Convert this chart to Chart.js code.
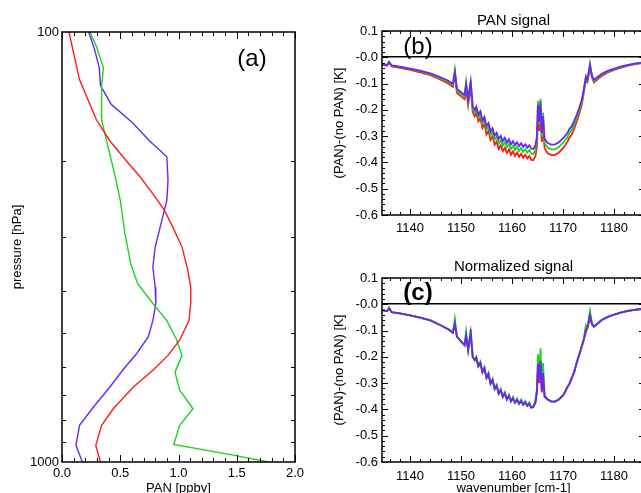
<!DOCTYPE html>
<html>
<head>
<meta charset="utf-8">
<script src="https://cdn.jsdelivr.net/npm/chart.js@4/dist/chart.umd.min.js"></script>
<style>
  html, body { margin: 0; padding: 0; background: #fff; overflow: hidden; }
  body { width: 641px; height: 493px; position: relative; }
  canvas { position: absolute; }
</style>
</head>
<body>
<canvas id="profiles" width="320" height="500" style="left:0;top:0"></canvas>
<canvas id="signal" width="330" height="250" style="left:320px;top:0"></canvas>
<canvas id="normalized" width="330" height="250" style="left:320px;top:250px"></canvas>
<script>
// --- (a) PAN profiles: pressure [hPa] vs PAN [ppbv] ---
const redPressure = [100, 129, 160, 179, 199, 217, 238, 260, 284, 316, 358, 392, 428, 469, 521, 565, 612, 670, 752, 822, 915, 1000];
const redPan = [0.06, 0.15, 0.295, 0.41, 0.55, 0.67, 0.78, 0.88, 0.95, 1.03, 1.08, 1.105, 1.105, 1.09, 1.01, 0.91, 0.78, 0.61, 0.44, 0.34, 0.29, 0.33];

const bluePressure = [100, 110, 121, 133, 147, 163, 179, 195, 221, 246, 279, 316, 352, 392, 428, 469, 512, 560, 612, 670, 745, 822, 915, 1000];
const bluePan = [0.23, 0.28, 0.32, 0.33, 0.42, 0.61, 0.75, 0.90, 0.91, 0.90, 0.85, 0.80, 0.78, 0.80, 0.805, 0.78, 0.74, 0.64, 0.52, 0.41, 0.27, 0.15, 0.12, 0.175];

const greenPressure = [100, 108, 121, 134, 160, 185, 213, 246, 294, 346, 385, 428, 469, 517, 565, 618, 681, 752, 822, 910, 964, 1000];
const greenPan = [0.24, 0.295, 0.355, 0.34, 0.34, 0.395, 0.45, 0.50, 0.54, 0.59, 0.65, 0.78, 0.90, 0.98, 1.03, 0.97, 1.01, 1.125, 1.01, 0.96, 1.47, 1.77];

const panTicks = [0, 0.5, 1.0, 1.5, 2.0];
const pressureTicks = [100, 1000];

// --- (b) and (c) spectra: wavenumber [cm-1] ---
const wavenumber = [
  1134.5, 1135.5, 1135.9, 1136.4, 1138.0, 1140.0, 1142.0, 1144.0, 1146.0, 1147.5, 1148.4, 1148.8, 1149.2, 1150.0, 1150.7, 1151.0, 1151.4, 1151.9, 1152.3,
  1152.7, 1153.0, 1153.4, 1153.8, 1154.2, 1154.6, 1155.0, 1155.4, 1155.8, 1156.2, 1156.6, 1157.0, 1157.4, 1157.8, 1158.2, 1158.6,
  1159.0, 1159.4, 1159.8, 1160.2, 1160.6, 1161.0, 1161.4, 1161.8, 1162.2, 1162.6, 1163.0, 1163.4, 1163.8, 1164.2, 1164.6, 1164.9,
  1165.1, 1165.35, 1165.6, 1165.85, 1166.1, 1166.4,
  1167.0, 1167.7, 1168.4, 1169.2, 1170.1, 1170.9, 1171.3, 1171.7, 1172.2, 1172.7, 1173.2, 1173.7, 1174.1, 1174.5, 1174.8, 1175.3,
  1175.7, 1176.1, 1176.8, 1177.6, 1178.8, 1180.2, 1181.5, 1182.8, 1184.0, 1185.5
];

// (b) PAN signal
const signalBlue = [
  -0.026, -0.029, -0.017, -0.031, -0.036, -0.043, -0.051, -0.061, -0.076, -0.089, -0.101, -0.055, -0.121, -0.132, -0.143, -0.102, -0.162, -0.092, -0.187,
  -0.200, -0.188, -0.218, -0.205, -0.240, -0.226, -0.262, -0.250, -0.282, -0.270, -0.298, -0.287, -0.311, -0.299, -0.319, -0.306,
  -0.325, -0.312, -0.331, -0.319, -0.335, -0.323, -0.338, -0.327, -0.341, -0.331, -0.344, -0.335, -0.348, -0.349, -0.335, -0.300,
  -0.181, -0.245, -0.168, -0.288, -0.225, -0.310,
  -0.326, -0.332, -0.332, -0.323, -0.307, -0.287, -0.272, -0.263, -0.242, -0.219, -0.192, -0.162, -0.120, -0.075, -0.085, -0.029,
  -0.070, -0.086, -0.075, -0.063, -0.052, -0.042, -0.035, -0.029, -0.024, -0.020
];
const signalGreen = [
  -0.027, -0.030, -0.018, -0.032, -0.037, -0.045, -0.053, -0.064, -0.080, -0.093, -0.106, -0.048, -0.127, -0.139, -0.150, -0.095, -0.170, -0.088, -0.197,
  -0.211, -0.198, -0.230, -0.216, -0.253, -0.238, -0.277, -0.263, -0.297, -0.283, -0.314, -0.302, -0.329, -0.315, -0.336, -0.323,
  -0.343, -0.329, -0.349, -0.337, -0.353, -0.341, -0.357, -0.345, -0.360, -0.349, -0.363, -0.353, -0.367, -0.368, -0.353, -0.315,
  -0.165, -0.255, -0.158, -0.302, -0.210, -0.326,
  -0.344, -0.350, -0.350, -0.341, -0.324, -0.303, -0.287, -0.277, -0.255, -0.231, -0.202, -0.171, -0.126, -0.072, -0.089, -0.025,
  -0.074, -0.091, -0.079, -0.066, -0.055, -0.044, -0.037, -0.031, -0.025, -0.021
];
const signalRed = [
  -0.029, -0.032, -0.020, -0.035, -0.040, -0.048, -0.057, -0.068, -0.085, -0.100, -0.113, -0.068, -0.136, -0.148, -0.160, -0.120, -0.181, -0.112, -0.209,
  -0.224, -0.212, -0.244, -0.231, -0.269, -0.254, -0.294, -0.280, -0.315, -0.301, -0.333, -0.321, -0.349, -0.335, -0.357, -0.344,
  -0.364, -0.350, -0.371, -0.358, -0.375, -0.363, -0.379, -0.367, -0.382, -0.371, -0.385, -0.376, -0.390, -0.391, -0.376, -0.340,
  -0.225, -0.280, -0.212, -0.322, -0.262, -0.347,
  -0.365, -0.372, -0.372, -0.362, -0.344, -0.321, -0.305, -0.295, -0.271, -0.245, -0.215, -0.181, -0.134, -0.088, -0.095, -0.040,
  -0.078, -0.096, -0.084, -0.071, -0.058, -0.047, -0.039, -0.032, -0.027, -0.022
];

// (c) normalized signal
const normBlue = [
  -0.022, -0.026, -0.015, -0.030, -0.035, -0.042, -0.051, -0.061, -0.080, -0.095, -0.108, -0.072, -0.123, -0.141, -0.155, -0.117, -0.174, -0.107, -0.200,
  -0.212, -0.203, -0.235, -0.222, -0.258, -0.243, -0.280, -0.265, -0.302, -0.288, -0.322, -0.310, -0.340, -0.326, -0.352, -0.338,
  -0.362, -0.348, -0.369, -0.357, -0.374, -0.363, -0.378, -0.367, -0.382, -0.372, -0.386, -0.378, -0.393, -0.390, -0.372, -0.330,
  -0.225, -0.290, -0.215, -0.330, -0.262, -0.350,
  -0.362, -0.369, -0.370, -0.362, -0.345, -0.314, -0.302, -0.282, -0.258, -0.222, -0.192, -0.160, -0.133, -0.098, -0.090, -0.041,
  -0.075, -0.085, -0.073, -0.060, -0.048, -0.038, -0.031, -0.025, -0.021, -0.018
];
const normGreen = [
  -0.022, -0.026, -0.012, -0.030, -0.035, -0.042, -0.051, -0.061, -0.080, -0.095, -0.108, -0.055, -0.123, -0.141, -0.155, -0.104, -0.174, -0.094, -0.200,
  -0.212, -0.199, -0.235, -0.218, -0.258, -0.239, -0.280, -0.261, -0.302, -0.284, -0.322, -0.306, -0.340, -0.322, -0.352, -0.334,
  -0.362, -0.344, -0.369, -0.353, -0.374, -0.359, -0.378, -0.363, -0.382, -0.368, -0.386, -0.373, -0.393, -0.390, -0.365, -0.322,
  -0.190, -0.270, -0.167, -0.318, -0.224, -0.345,
  -0.362, -0.369, -0.370, -0.362, -0.345, -0.314, -0.300, -0.282, -0.258, -0.222, -0.192, -0.160, -0.130, -0.079, -0.088, -0.025,
  -0.072, -0.085, -0.073, -0.060, -0.048, -0.038, -0.031, -0.025, -0.021, -0.018
];
const normRed = [
  -0.022, -0.026, -0.017, -0.030, -0.035, -0.042, -0.051, -0.061, -0.080, -0.095, -0.108, -0.080, -0.123, -0.141, -0.155, -0.125, -0.174, -0.115, -0.200,
  -0.212, -0.205, -0.235, -0.224, -0.258, -0.245, -0.280, -0.267, -0.302, -0.290, -0.322, -0.312, -0.340, -0.328, -0.352, -0.340,
  -0.362, -0.350, -0.369, -0.359, -0.374, -0.365, -0.378, -0.369, -0.382, -0.374, -0.386, -0.380, -0.393, -0.390, -0.375, -0.335,
  -0.245, -0.300, -0.235, -0.335, -0.280, -0.352,
  -0.362, -0.369, -0.370, -0.362, -0.345, -0.314, -0.303, -0.282, -0.258, -0.222, -0.192, -0.160, -0.135, -0.105, -0.092, -0.050,
  -0.077, -0.085, -0.073, -0.060, -0.048, -0.038, -0.031, -0.025, -0.021, -0.018
];

const wnTicks = [1140, 1150, 1160, 1170, 1180];
const kTicks = [0.1, 0, -0.1, -0.2, -0.3, -0.4, -0.5, -0.6];

const RED = '#ff1a1a';
const GREEN = '#1ed21e';
const BLUE = '#6a26f2';

Chart.defaults.font.family = '"Liberation Sans", Arial, Helvetica, sans-serif';
Chart.defaults.font.size = 13;
Chart.defaults.color = '#000';

// IDL-like frame with inward ticks on all sides, plus the panel letter
const frameTicks = {
    id: 'frameTicks',
    afterDatasetsDraw(chart, args, o) {
        const { ctx, chartArea: a } = chart;
        const x = chart.scales.x, y = chart.scales.y;
        ctx.save();
        ctx.strokeStyle = '#000';
        ctx.lineWidth = 1.5;
        ctx.beginPath();
        ctx.rect(a.left, a.top, a.right - a.left, a.bottom - a.top);
        ctx.stroke();
        ctx.lineWidth = 1;
        ctx.beginPath();
        const xt = (list, len) => list.forEach(v => {
            const px = Math.round(x.getPixelForValue(v)) + 0.5;
            ctx.moveTo(px, a.bottom); ctx.lineTo(px, a.bottom - len);
            ctx.moveTo(px, a.top); ctx.lineTo(px, a.top + len);
        });
        const yt = (list, len) => list.forEach(v => {
            const py = Math.round(y.getPixelForValue(v)) + 0.5;
            ctx.moveTo(a.left, py); ctx.lineTo(a.left + len, py);
            ctx.moveTo(a.right, py); ctx.lineTo(a.right - len, py);
        });
        xt(o.xMajor, o.majorLen);
        xt(o.xMinor, o.minorLen);
        yt(o.yMajor, o.majorLen);
        yt(o.yMinor, o.minorLen);
        ctx.stroke();
        ctx.font = o.labelFont;
        ctx.fillStyle = '#000';
        ctx.textAlign = 'center';
        ctx.textBaseline = 'middle';
        ctx.fillText(o.label, o.labelX, o.labelY);
        ctx.restore();
    }
};

function range(from, to, step) {
    const out = [];
    for (let v = from; v <= to + step / 2; v += step) out.push(+v.toFixed(4));
    return out;
}

function pairs(xs, ys) {
    return xs.map((v, i) => ({ x: v, y: ys[i] }));
}

function lineSet(color, data, width) {
    return { data: data, borderColor: color, borderWidth: width, pointRadius: 0, tension: 0, fill: false };
}

// --- Panel (a) ---
new Chart(document.getElementById('profiles'), {
    type: 'line',
    data: {
        datasets: [
            lineSet(RED, pairs(redPan, redPressure), 1.4),
            lineSet(GREEN, pairs(greenPan, greenPressure), 1.4),
            lineSet(BLUE, pairs(bluePan, bluePressure), 1.4)
        ]
    },
    options: {
        responsive: false,
        animation: false,
        layout: { padding: { left: 0, top: 32, right: 25, bottom: 0 } },
        plugins: {
            legend: { display: false },
            tooltip: { enabled: false },
            frameTicks: {
                xMajor: panTicks, xMinor: range(0.1, 1.9, 0.1), yMajor: [], yMinor: range(200, 900, 100),
                majorLen: 7, minorLen: 4,
                label: '(a)', labelFont: '24px "Liberation Sans", Arial, sans-serif', labelX: 252, labelY: 59
            }
        },
        scales: {
            x: {
                type: 'linear', min: 0, max: 2,
                afterBuildTicks: s => { s.ticks = panTicks.map(v => ({ value: v })); },
                afterFit: s => { s.height = 38; },
                grid: { display: false, drawTicks: false },
                border: { display: false },
                ticks: { padding: 4, maxRotation: 0, callback: v => v.toFixed(1) },
                title: { display: true, text: 'PAN [ppbv]', padding: { top: 0, bottom: 3.7 } }
            },
            y: {
                type: 'logarithmic', min: 100, max: 1000, reverse: true,
                afterBuildTicks: s => { s.ticks = pressureTicks.map(v => ({ value: v })); },
                afterFit: s => { s.width = 62; },
                grid: { display: false, drawTicks: false },
                border: { display: false },
                ticks: { padding: 3, callback: v => String(v) },
                title: { display: true, text: 'pressure [hPa]', padding: { top: 10, bottom: 0 } }
            }
        }
    },
    plugins: [frameTicks]
});

// --- Panels (b) and (c) ---
function spectrumChart(id, title, sets, label, labelY, labelBold, titlePad, xHeight, showXTitle) {
    return new Chart(document.getElementById(id), {
        type: 'line',
        data: { datasets: sets },
        options: {
            responsive: false,
            animation: false,
            layout: { padding: { left: 0, top: 0, right: 5, bottom: 0 } },
            plugins: {
                legend: { display: false },
                tooltip: { enabled: false },
                title: {
                    display: true, text: title, fullSize: false,
                    font: { size: 15, weight: 'normal' }, padding: titlePad
                },
                frameTicks: {
                    xMajor: wnTicks, xMinor: range(1136, 1186, 2), yMajor: kTicks, yMinor: range(-0.6, 0.1, 0.02),
                    majorLen: 6, minorLen: 3,
                    label: label,
                    labelFont: (labelBold ? 'bold ' : '') + '24px "Liberation Sans", Arial, sans-serif',
                    labelX: 98, labelY: labelY
                }
            },
            scales: {
                x: {
                    type: 'linear', min: 1134.5, max: 1186.1,
                    afterBuildTicks: s => { s.ticks = wnTicks.map(v => ({ value: v })); },
                    afterFit: s => { s.height = xHeight; },
                    grid: { display: false, drawTicks: false },
                    border: { display: false },
                    ticks: { padding: showXTitle ? 7 : 6, maxRotation: 0, callback: v => String(v) },
                    title: { display: showXTitle, text: 'wavenumber [cm-1]', padding: { top: 0, bottom: 3.7 } }
                },
                y: {
                    type: 'linear', min: -0.6, max: 0.1,
                    afterBuildTicks: s => { s.ticks = kTicks.map(v => ({ value: v })); },
                    afterFit: s => { s.width = 62; },
                    grid: {
                        drawTicks: false,
                        color: c => (c.tick && Math.abs(c.tick.value) < 1e-9 ? '#000' : 'rgba(0,0,0,0)'),
                        lineWidth: 1.6
                    },
                    border: { display: false },
                    ticks: { padding: 4, callback: v => (Math.abs(v) < 1e-9 ? '-0.0' : v.toFixed(1)) },
                    title: { display: true, text: '(PAN)-(no PAN) [K]', padding: { top: 12, bottom: 0 } }
                }
            }
        },
        plugins: [frameTicks]
    });
}

spectrumChart('signal', 'PAN signal', [
    lineSet(BLUE, pairs(wavenumber, signalBlue), 1.8),
    lineSet(GREEN, pairs(wavenumber, signalGreen), 1.8),
    lineSet(RED, pairs(wavenumber, signalRed), 1.8)
], '(b)', 47, false, { top: 11.5, bottom: 1.5 }, 35, false);

spectrumChart('normalized', 'Normalized signal', [
    lineSet(BLUE, pairs(wavenumber, normBlue), 1.8),
    lineSet(GREEN, pairs(wavenumber, normGreen), 1.8),
    lineSet(RED, pairs(wavenumber, normRed), 1.8)
], '(c)', 43, true, { top: 8, bottom: 2 }, 38, true);
</script>
</body>
</html>
